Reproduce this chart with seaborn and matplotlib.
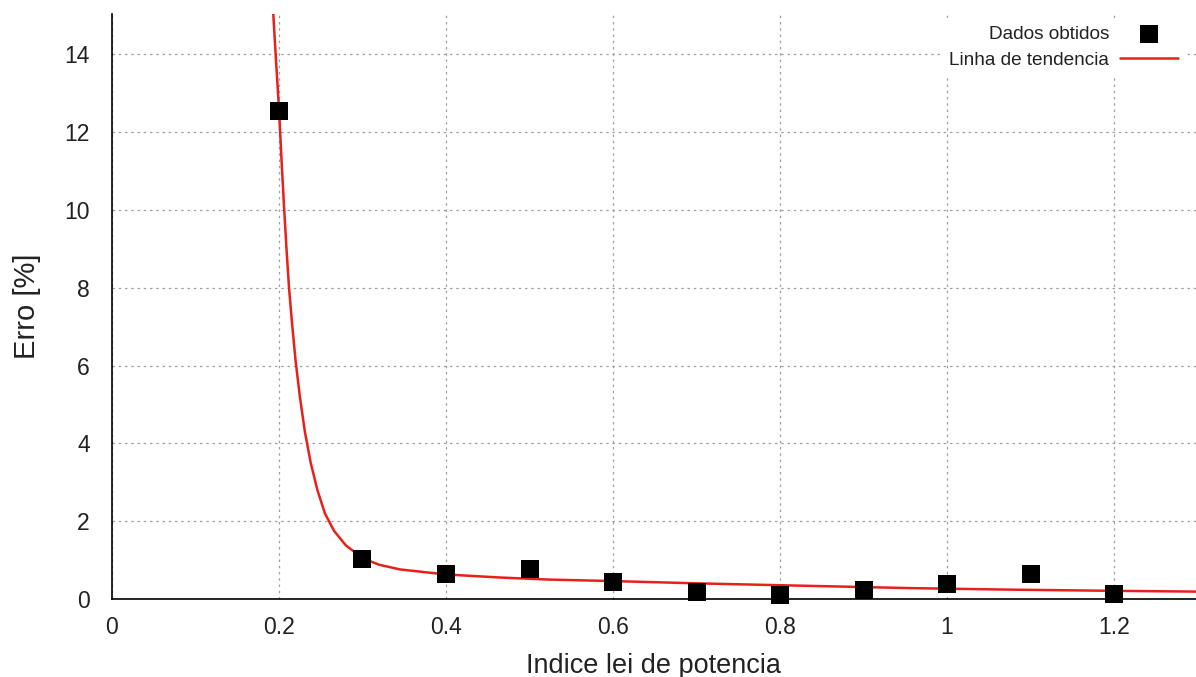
import matplotlib
matplotlib.use('Agg')
import matplotlib.pyplot as plt
import seaborn as sns
import pandas as pd

# ── Data ─────────────────────────────────────────────────────
indice = [0.2, 0.3, 0.4, 0.5, 0.6, 0.7, 0.8, 0.9, 1.0, 1.1, 1.2]
erro   = [12.55, 1.03, 0.65, 0.77, 0.43, 0.17, 0.10, 0.22, 0.39, 0.64, 0.13]

trend_x = [0.193, 0.196, 0.200, 0.203, 0.206, 0.209, 0.212, 0.216, 0.220,
           0.225, 0.231, 0.238, 0.246, 0.255, 0.266, 0.280, 0.300, 0.320,
           0.345, 0.400, 0.467, 0.522, 0.601, 0.705, 0.809, 0.956, 1.078,
           1.200, 1.300]
trend_y = [15.1, 14.0, 12.6, 11.3, 10.1, 9.0, 8.0, 7.0, 6.1,
           5.2, 4.3, 3.5, 2.8, 2.2, 1.75, 1.38, 1.05, 0.88,
           0.76, 0.63, 0.55, 0.50, 0.46, 0.40, 0.35, 0.28, 0.24,
           0.21, 0.19]

xticks = [0, 0.2, 0.4, 0.6, 0.8, 1.0, 1.2]
xtick_labels = ['0', '0.2', '0.4', '0.6', '0.8', '1', '1.2']
yticks = [0, 2, 4, 6, 8, 10, 12, 14]

pts = pd.DataFrame({'x': indice, 'y': erro})
trend = pd.DataFrame({'x': trend_x, 'y': trend_y})

sns.set_style('white')
plt.rcParams['font.family'] = ['Liberation Sans', 'DejaVu Sans']

fig = plt.figure(figsize=(11.96, 6.77), dpi=100)
ax = fig.add_axes([0.0936, 0.1152, 0.9064, 0.8640])

sns.lineplot(data=trend, x='x', y='y', ax=ax, color='#e8201a', lw=1.8,
             sort=False, estimator=None, label='Linha de tendencia', zorder=2)
sns.scatterplot(data=pts, x='x', y='y', ax=ax, marker='s', s=150,
                color='black', edgecolor='black', linewidth=0,
                label='Dados obtidos', zorder=3, clip_on=False)

ax.set_xlim(0, 1.298)
ax.set_ylim(0, 15.03)
ax.set_xticks(xticks)
ax.set_xticklabels(xtick_labels)
ax.set_yticks(yticks)
ax.grid(True, color='#a0a0a0', linestyle=(0, (2, 3)), linewidth=0.9)
ax.tick_params(direction='in', length=7, width=1, labelsize=16.5,
               colors='black', labelcolor='#222222')
ax.tick_params(axis='y', pad=16)
ax.tick_params(axis='x', pad=12)
for s in ['top', 'right']:
    ax.spines[s].set_visible(False)
for s in ['left', 'bottom']:
    ax.spines[s].set_color('black')
    ax.spines[s].set_linewidth(1.2)

ax.set_xlabel('Indice lei de potencia', fontsize=19.5, labelpad=10,
              color='#222222')
ax.set_ylabel('Erro [%]', fontsize=21, color='#222222')
ax.yaxis.set_label_coords(-0.0655, 0.5)

# legend box is blanked like gnuplot's key (grid hidden behind it)
handles, labels = ax.get_legend_handles_labels()
order = [labels.index('Dados obtidos'), labels.index('Linha de tendencia')]
leg = ax.legend([handles[i] for i in order], [labels[i] for i in order],
                loc='upper right', frameon=True, markerfirst=False,
                fontsize=13.7, handlelength=3.0, handletextpad=0.6,
                borderaxespad=0.0, borderpad=0.4, labelspacing=0.45,
                bbox_to_anchor=(0.99, 0.993), labelcolor='#222222',
                fancybox=False, framealpha=1.0)
leg.get_frame().set_facecolor('white')
leg.get_frame().set_edgecolor('none')

fig.savefig('out.png', dpi=100)
